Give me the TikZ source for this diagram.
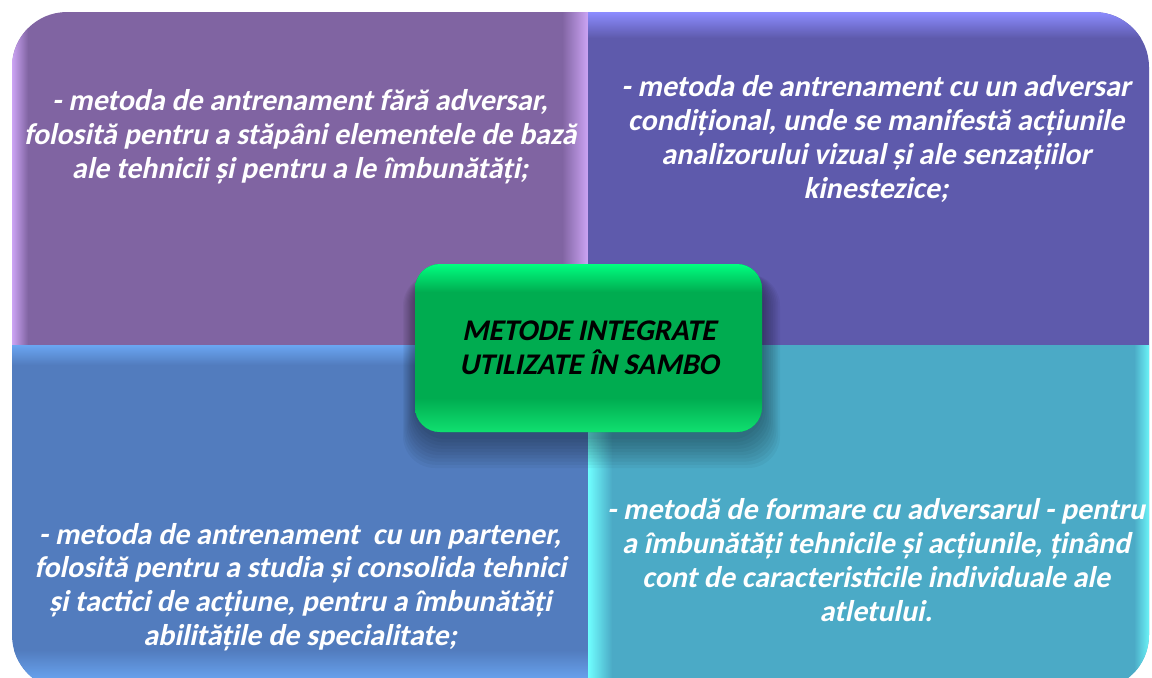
\documentclass[tikz,border=0pt]{standalone}
\usepackage{fontspec}
\setmainfont{Carlito}
\newfontfamily\slbold{Carlito}[BoldFeatures={FakeSlant=0.21}]
\definecolor{tlbase}{HTML}{8064A2}
\definecolor{tllight}{HTML}{CCA4F4}
\definecolor{trbase}{HTML}{5E5AAC}
\definecolor{trlight}{HTML}{8C8CFF}
\definecolor{blbase}{HTML}{527CBE}
\definecolor{bllight}{HTML}{70B0FF}
\definecolor{brbase}{HTML}{4BAAC6}
\definecolor{brlight}{HTML}{70FFFF}
\definecolor{gbase}{HTML}{00AC50}
\definecolor{gtop}{HTML}{00FF80}
\definecolor{gbot}{HTML}{10E070}
\tikzset{
  qtext/.style={text=white, align=center, font=\slbold\fontsize{15}{16.9}\selectfont\bfseries, inner sep=0pt},
  ctext/.style={text=black, align=center, font=\slbold\fontsize{15}{16.9}\selectfont\bfseries, inner sep=0pt},
}
\begin{document}
\begin{tikzpicture}[x=0.5pt,y=-0.5pt]
\useasboundingbox (0,0) rectangle (1152,677);
\fill[white] (0,0) rectangle (1152,677);
% top-left quadrant
\begin{scope}
\clip (12,345) [rounded corners=27.5pt] -- (12,12) [sharp corners] -- (588,12) -- (588,345) -- cycle;
\fill[tlbase] (0,0) rectangle (600,360);
\shade[left color=tllight, right color=tlbase] (12,12) rectangle (28,345);
\shade[left color=tlbase, right color=tllight] (562,12) rectangle (588,345);
\end{scope}
% top-right quadrant
\begin{scope}
\clip (588,12) [rounded corners=27.5pt] -- (1149,12) [sharp corners] -- (1149,345) -- (588,345) -- cycle;
\fill[trbase] (580,0) rectangle (1152,360);
\shade[top color=trlight, bottom color=trbase] (588,12) rectangle (1149,38);
\end{scope}
% bottom-left quadrant
\begin{scope}
\clip (588,690) [rounded corners=27.5pt] -- (12,690) [sharp corners] -- (12,345) -- (588,345) -- cycle;
\fill[blbase] (0,340) rectangle (600,700);
\shade[top color=bllight!80!blbase, bottom color=blbase] (12,345) rectangle (588,365);
\shade[top color=blbase, bottom color=bllight] (12,650) rectangle (588,690);
\end{scope}
% bottom-right quadrant
\begin{scope}
\clip (588,345) -- (1149,345) [rounded corners=27.5pt] -- (1149,690) [sharp corners] -- (588,690) -- cycle;
\fill[brbase] (580,340) rectangle (1152,700);
\shade[left color=brlight, right color=brbase] (588,345) rectangle (612,690);
\shade[left color=brbase, right color=brlight!85!brbase] (1134,345) rectangle (1149,690);
\end{scope}
% shadow of the centre box
\foreach \i in {1,...,10} {
  \fill[black, opacity=0.04, rounded corners=16pt]
    (415-\i*1.2, 272+\i*0.2) rectangle (762+\i*1.8, 436+\i*3.2);
}
% centre box
\begin{scope}
\clip[rounded corners=12.5pt] (415,264) rectangle (762,432);
\fill[gbase] (410,260) rectangle (770,440);
\shade[top color=gtop, bottom color=gbase] (415,264) rectangle (762,292);
\shade[top color=gbase, bottom color=gbot] (415,398) rectangle (762,432);
\end{scope}
% texts
\node[qtext] (tl) at (300,137) {- metoda de antrenament fără adversar,\\folosită pentru a stăpâni elementele de bază\\ale tehnicii și pentru a le îmbunătăți;};
\node[qtext] (tr) at (876,139) {- metoda de antrenament cu un adversar\\condițional, unde se manifestă acțiunile\\analizorului vizual și ale senzațiilor\\kinestezice;};
\node[qtext] (bl) at (300,587) {- metoda de antrenament\ \ cu un partener,\\folosită pentru a studia și consolida tehnici\\și tactici de acțiune, pentru a îmbunătăți\\abilitățile de specialitate;};
\node[qtext] (br) at (876,560) {- metodă de formare cu adversarul - pentru\\a îmbunătăți tehnicile și acțiunile, ținând\\cont de caracteristicile individuale ale\\atletului.};
\node[ctext] (c) at (589,348) {METODE INTEGRATE\\UTILIZATE ÎN SAMBO};
\end{tikzpicture}
\end{document}
